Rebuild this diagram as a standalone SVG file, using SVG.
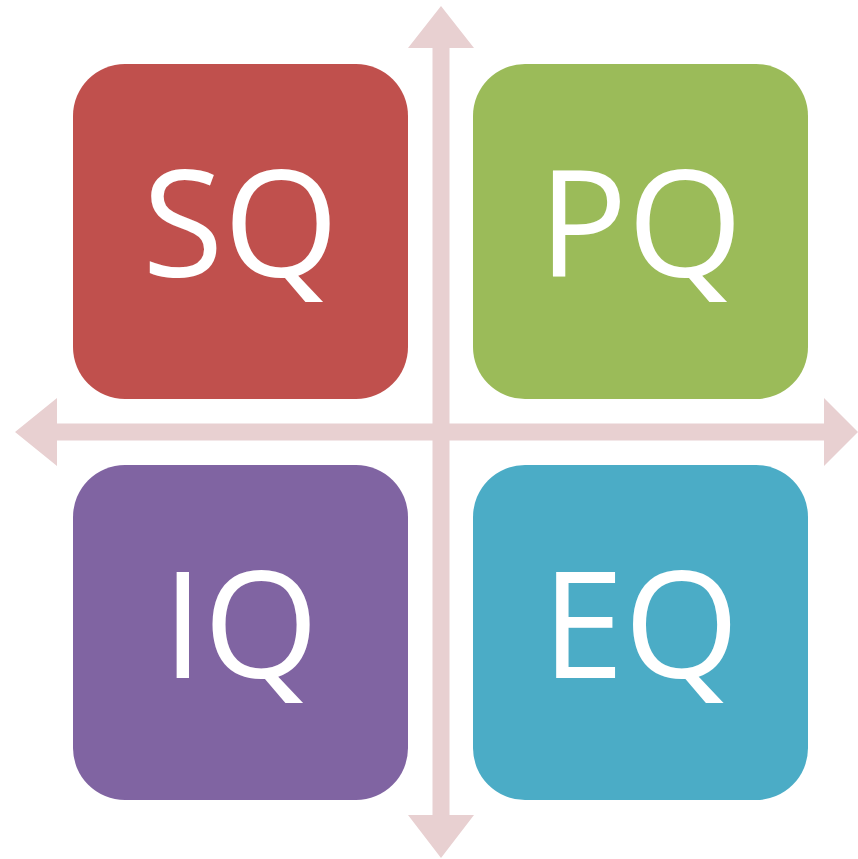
<svg xmlns="http://www.w3.org/2000/svg" width="858" height="859" viewBox="0 0 858 859">
<style>
.box{stroke:none}
.lbl{font-family:"Open Sans","Liberation Sans",sans-serif;font-size:148px;fill:#FFFFFF;text-anchor:middle}
.arr{fill:#E8D0D1;stroke:none}
</style>
<rect width="858" height="859" fill="#FFFFFF"/>
<g id="connectors">
<polygon class="arr" points="441,6 474,48 449.5,48 449.5,423.5 824,423.5 824,398 858,432 824,466 824,440.5 449.5,440.5 449.5,815 474,815 441,858 408,815 432.5,815 432.5,440.5 57,440.5 57,466 15,432 57,398 57,423.5 432.5,423.5 432.5,48 408,48"/>
</g>
<g id="node-sq">
<rect class="box" x="73" y="64" width="335" height="335" rx="52" fill="#C0504D"/>
<text class="lbl" x="240.5" y="277">SQ</text>
</g>
<g id="node-pq">
<rect class="box" x="473" y="64" width="335" height="335" rx="52" fill="#9BBB59"/>
<text class="lbl" x="640.5" y="277">PQ</text>
</g>
<g id="node-iq">
<rect class="box" x="73" y="465" width="335" height="335" rx="52" fill="#8064A2"/>
<text class="lbl" x="240.5" y="678">IQ</text>
</g>
<g id="node-eq">
<rect class="box" x="473" y="465" width="335" height="335" rx="52" fill="#4BACC6"/>
<text class="lbl" x="640.5" y="678">EQ</text>
</g>
</svg>
